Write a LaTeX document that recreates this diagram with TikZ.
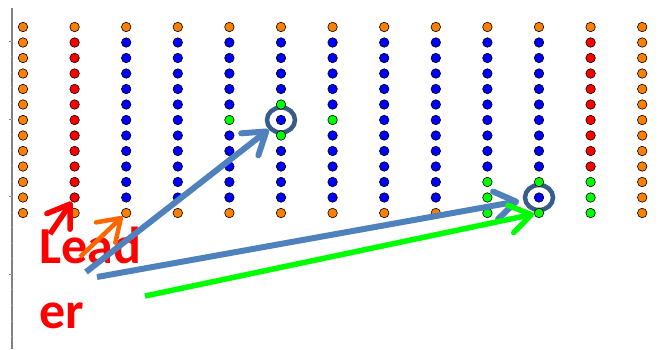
\documentclass[tikz,border=0pt]{standalone}
\usepackage{fontspec}
\setsansfont{Carlito}
\usetikzlibrary{arrows.meta,shapes.geometric}
\definecolor{dotO}{RGB}{255,128,0}
\definecolor{dotR}{RGB}{255,0,0}
\definecolor{dotB}{RGB}{0,0,255}
\definecolor{dotG}{RGB}{0,255,0}
\definecolor{arrowblue}{RGB}{79,129,189}
\definecolor{ringblue}{RGB}{56,93,138}
\definecolor{arroworange}{RGB}{255,102,0}

\begin{document}
\begin{tikzpicture}[x=1pt,y=-1pt,
  dot/.style={circle,draw=black,line width=0.6pt,inner sep=0pt,minimum size=9.5pt},
  ring/.style={ellipse,draw=ringblue,line width=4.5pt,inner sep=0pt,minimum width=28pt,minimum height=25pt},
  word/.style={anchor=base west,inner sep=0pt,text=dotR,font=\sffamily\bfseries\fontsize{52}{60}\selectfont},
  arr/.style={-{Straight Barb[length=21pt,width=28pt,round]}}]

\useasboundingbox (0,0) rectangle (660,349);

\draw [gray,line width=1.2pt] (12,8) -- (12,349);
\foreach \t in {0,...,3} \draw [gray] (8.5,41+77.7*\t) -- (12,41+77.7*\t);
\foreach \t in {0,...,19} \draw [gray!60,line width=0.4pt] (10.5,41+15.54*\t) -- (12,41+15.54*\t);

\node [ring] (c1) at (23+51.6*5,27+15.5*6) {};
\node [ring] (c2) at (23+51.6*10,27+15.5*11) {};

\foreach \col [count=\i from 0] in {
  {O,O,O,O,O,O,O,O,O,O,O,O,O},
  {O,R,R,R,R,R,R,R,R,R,R,R,O},
  {O,B,B,B,B,B,B,B,B,B,B,B,O},
  {O,B,B,B,B,B,B,B,B,B,B,B,O},
  {O,B,B,B,B,B,G,B,B,B,B,B,O},
  {O,B,B,B,B,G,B,G,B,B,B,B,O},
  {O,B,B,B,B,B,G,B,B,B,B,B,O},
  {O,B,B,B,B,B,B,B,B,B,B,B,O},
  {O,B,B,B,B,B,B,B,B,B,B,B,O},
  {O,B,B,B,B,B,B,B,B,B,G,G,G},
  {O,B,B,B,B,B,B,B,B,B,G,B,G},
  {O,R,R,R,R,R,R,R,R,R,G,G,G},
  {O,O,O,O,O,O,O,O,O,O,O,O,O}}
  \foreach \k [count=\j from 0] in \col
    \node [dot,fill=dot\k] (d-\i-\j) at (23+51.6*\i,27+15.5*\j) {};

\node [word] (wordA) at (39,263) {Lead};
\node [word] (wordB) at (39,328) {er};

\coordinate (tailR) at (50,234);
\coordinate (tailO) at (80,257);
\coordinate (tailB1) at (86,272);
\coordinate (tailB2) at (97,277);
\coordinate (tailG) at (145,296);

\draw [arr,dotR,line width=5.5pt] (tailR) -- (d-1-11);
\draw [arr,arroworange,line width=4.5pt] (tailO) -- (d-2-12);
\draw [arr,arrowblue,line width=6pt] (tailB1) -- (c1);
\draw [arr,arrowblue,line width=6pt,shorten >=4pt] (tailB2) -- (c2);
\draw [arr,dotG,line width=5.5pt] (tailG) -- (d-10-12);

\end{tikzpicture}
\end{document}
